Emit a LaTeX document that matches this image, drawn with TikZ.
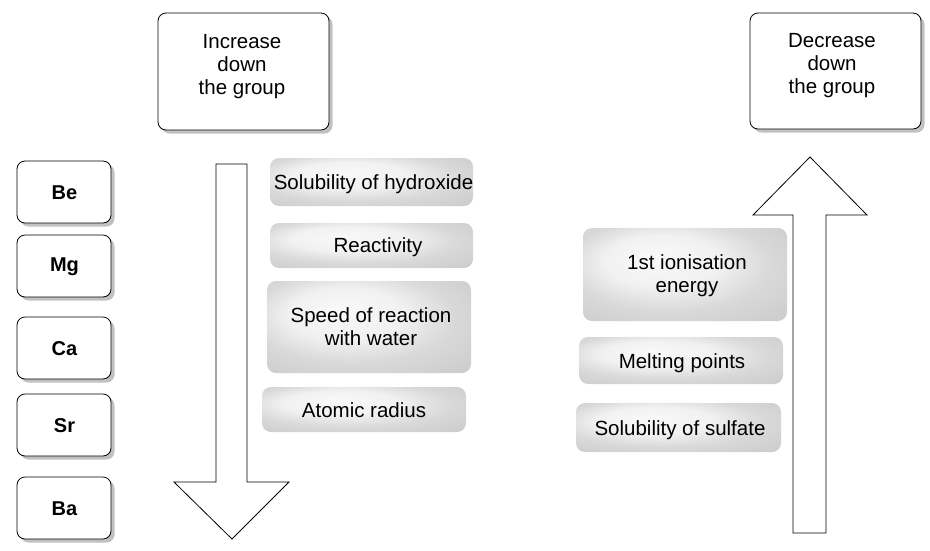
\documentclass[tikz,border=0pt]{standalone}
\usepackage{fontspec}
\setmainfont{Liberation Sans}
\usetikzlibrary{shadows}
\pgfdeclareradialshading{glossy}{\pgfpoint{-8bp}{10bp}}{color(0bp)=(gray!5); color(14bp)=(gray!11); color(25bp)=(gray!30); color(40bp)=(gray!42); color(50bp)=(gray!42)}
\tikzset{
  wbox/.style={draw=black, line width=0.8pt, fill=white, rounded corners=8pt,
    drop shadow={shadow xshift=3.5pt, shadow yshift=-3.5pt, fill=gray!70, opacity=0.7}},
  elbox/.style={wbox, minimum width=94pt, minimum height=62pt},
  gbox/.style={rounded corners=9pt, shading=glossy},
  txt/.style={align=center, font=\fontsize{20.5}{23}\selectfont, inner sep=0pt},
  eltxt/.style={font=\fontsize{20}{23}\selectfont\bfseries, inner sep=0pt},
  arr/.style={draw=black, line width=0.8pt, fill=white, line join=miter}
}
\begin{document}
\begin{tikzpicture}[x=1pt,y=-1pt]
\useasboundingbox (0,0) rectangle (930,550);
% header boxes
\node[wbox, minimum width=171pt, minimum height=117pt] (inc) at (243.5,71.5) {};
\node[txt] (inct) at (242,66.5) {Increase\\down\\the group};
\node[wbox, minimum width=171pt, minimum height=116pt] (dec) at (835.5,71) {};
\node[txt] (dect) at (832,65.5) {Decrease\\down\\the group};
% element boxes
\node[elbox] (be) at (64,192) {};
\node[eltxt] at (64.5,193) {Be};
\node[elbox] (mg) at (64,266) {};
\node[eltxt] at (64.5,267) {Mg};
\node[elbox] (ca) at (64,348) {};
\node[eltxt] at (64.5,349) {Ca};
\node[elbox] (sr) at (64,425) {};
\node[eltxt] at (64.5,426) {Sr};
\node[elbox] (ba) at (64,508) {};
\node[eltxt] at (64.5,509) {Ba};
% arrows
\draw[arr] (216,164) -- (247,164) -- (247,482) -- (289,482) -- (232,539) -- (174,482) -- (216,482) -- cycle;
\draw[arr] (793,533) -- (826,533) -- (826,215) -- (867,215) -- (810,157) -- (753,215) -- (793,215) -- cycle;
% grey boxes left
\node[gbox, minimum width=203pt, minimum height=48pt] (hyd) at (371.5,182) {};
\node[txt] at (373.5,184) {Solubility of hydroxide};
\node[gbox, minimum width=203pt, minimum height=45pt] (rea) at (371.5,245.5) {};
\node[txt] at (378,247) {Reactivity};
\node[gbox, minimum width=204pt, minimum height=92pt] (spd) at (369,327) {};
\node[txt] at (371,326.5) {Speed of reaction\\with water};
\node[gbox, minimum width=204pt, minimum height=45pt] (ato) at (364,409.5) {};
\node[txt] at (364,410) {Atomic radius};
% grey boxes right
\node[gbox, minimum width=204pt, minimum height=93pt] (ion) at (685,274.5) {};
\node[txt] at (687,275.5) {1st ionisation\\energy};
\node[gbox, minimum width=204pt, minimum height=47pt] (mel) at (681,360.5) {};
\node[txt] at (682,363.5) {Melting points};
\node[gbox, minimum width=205pt, minimum height=49pt] (sul) at (678.5,427.5) {};
\node[txt] at (680,430) {Solubility of sulfate};
\end{tikzpicture}
\end{document}
